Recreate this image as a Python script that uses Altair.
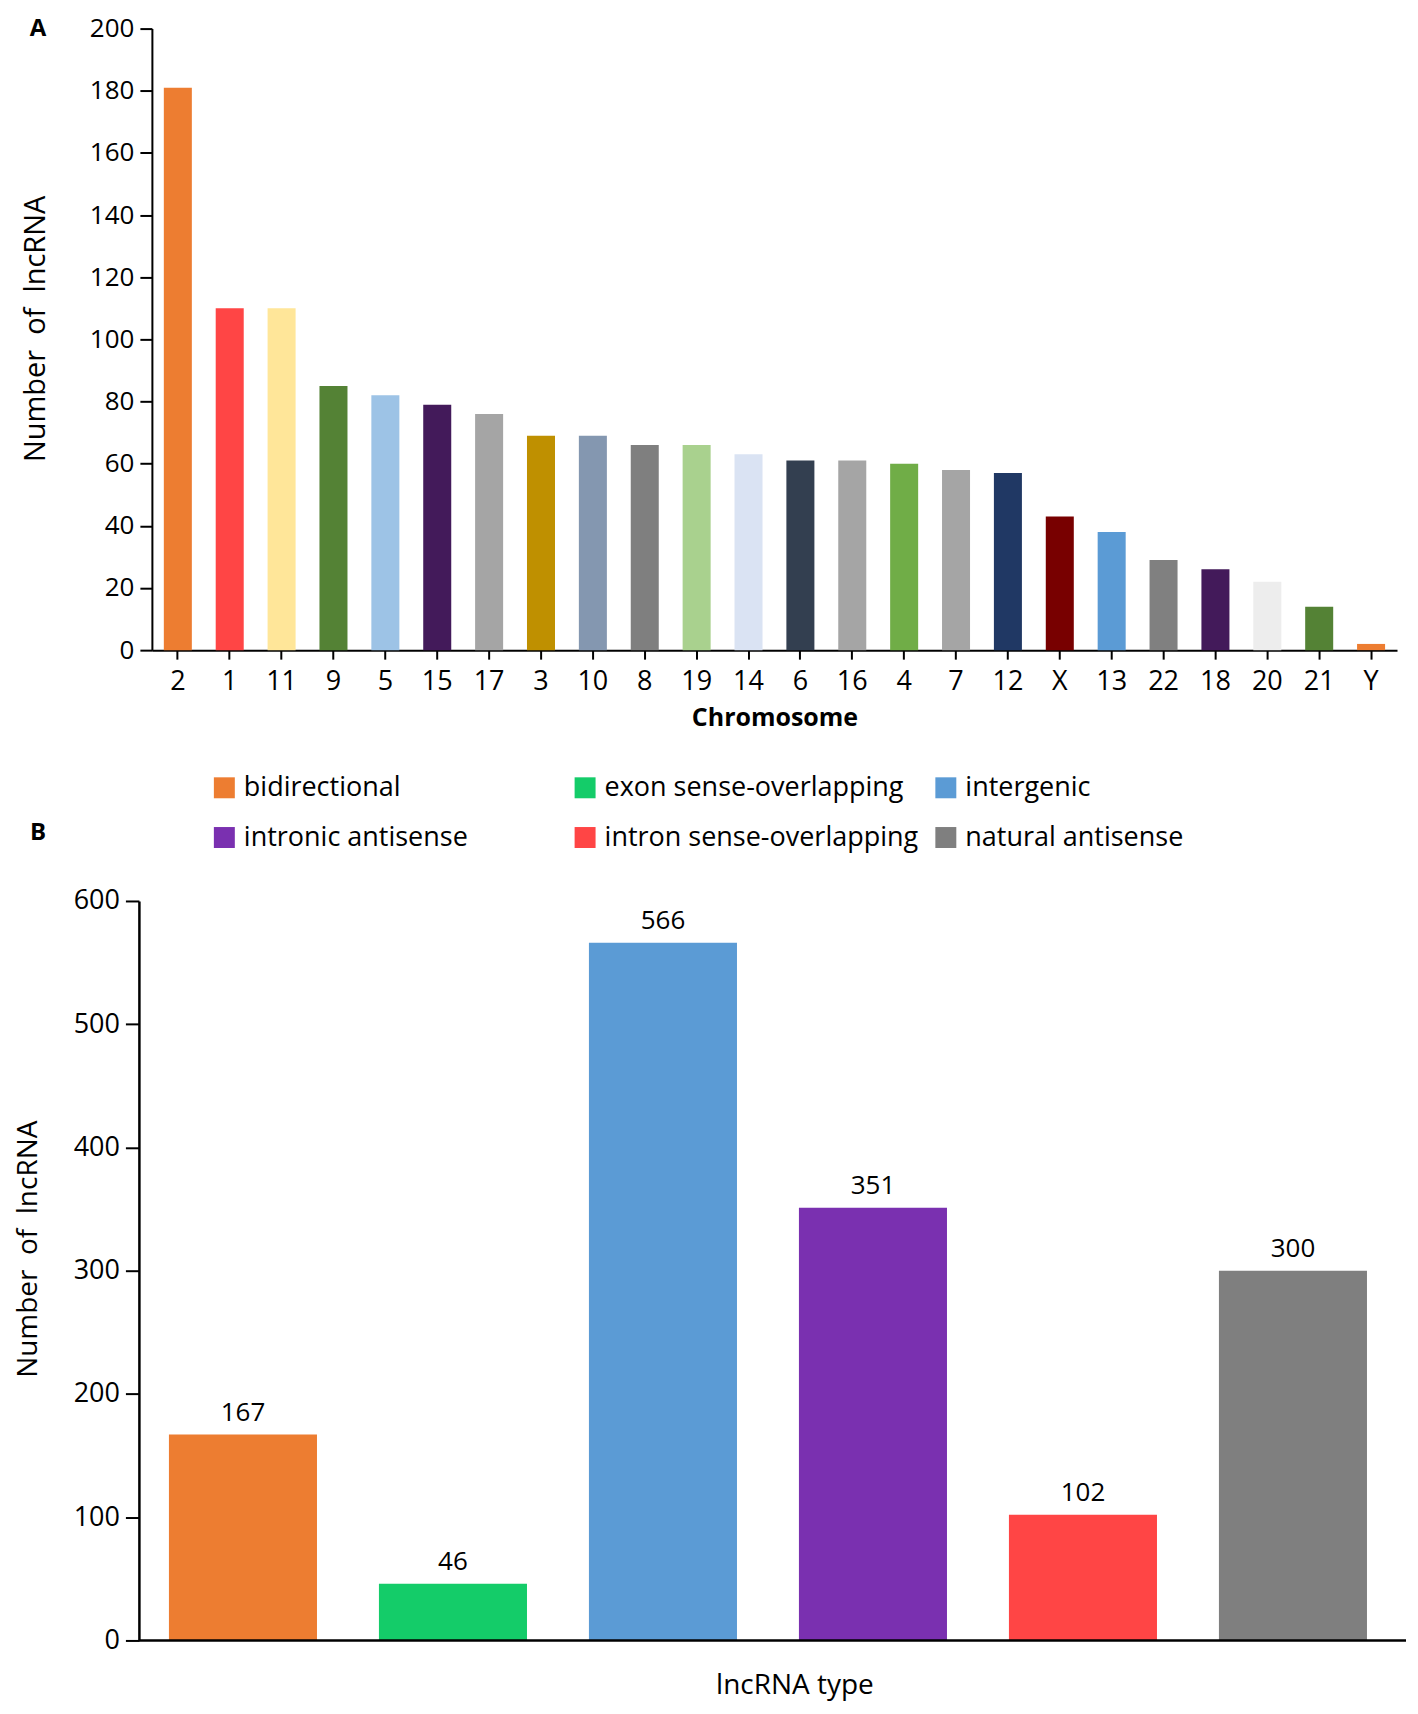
import altair as alt
import pandas as pd

# Panel A data
chromosomes = ["2", "1", "11", "9", "5", "15", "17", "3", "10", "8", "19", "14",
               "6", "16", "4", "7", "12", "X", "13", "22", "18", "20", "21", "Y"]
chrom_counts = [181, 110, 110, 85, 82, 79, 76, 69, 69, 66, 66, 63,
                61, 61, 60, 58, 57, 43, 38, 29, 26, 22, 14, 2]
chrom_colors = ["#ED7D31", "#FF4545", "#FFE699", "#548235", "#9DC3E6", "#431A5A",
                "#A5A5A5", "#BF9000", "#8497B0", "#7F7F7F", "#A9D18E", "#DAE3F3",
                "#333F50", "#A5A5A5", "#70AD47", "#A5A5A5", "#203864", "#780000",
                "#5B9BD5", "#808080", "#431A5A", "#EDEDED", "#548235", "#ED7D31"]
a_ticks = [0, 20, 40, 60, 80, 100, 120, 140, 160, 180, 200]

# Panel B data
types = ["bidirectional", "exon sense-overlapping", "intergenic",
         "intronic antisense", "intron sense-overlapping", "natural antisense"]
type_counts = [167, 46, 566, 351, 102, 300]
type_colors = ["#ED7D31", "#14CC69", "#5B9BD5", "#7A30B0", "#FF4545", "#7F7F7F"]
legend_order = ["bidirectional", "intronic antisense", "exon sense-overlapping",
                "intron sense-overlapping", "intergenic", "natural antisense"]
b_ticks = [0, 100, 200, 300, 400, 500, 600]

FONT = "Open Sans"
ytitle = "Number\u00a0 of\u00a0 lncRNA"

dfA = pd.DataFrame({"chrom": chromosomes, "count": chrom_counts})
dfB = pd.DataFrame({"type": types, "count": type_counts})
one = alt.Data(values=[{"k": 1}])

WA, HA = 1246, 622
WB, HB = 1255, 740
B_SHIFT = 13  # B's y-axis sits 13px left of A's

barsA = alt.Chart(dfA).mark_bar().encode(
    x=alt.X("chrom:N", sort=chromosomes,
            scale=alt.Scale(paddingInner=0.46, paddingOuter=0.23),
            axis=alt.Axis(title="Chromosome", labelAngle=0, labelFontSize=27,
                          labelColor="black", labelPadding=9, tickSize=9,
                          tickWidth=2, tickColor="black", domainColor="black",
                          domainWidth=2, titleFontSize=25, titleFontWeight="bold",
                          titleColor="black", titlePadding=11)),
    y=alt.Y("count:Q", scale=alt.Scale(domain=[0, 200], nice=False),
            axis=alt.Axis(title=ytitle, values=a_ticks, grid=False, labelFontSize=26,
                          labelColor="black", labelPadding=6, tickSize=12, tickWidth=2,
                          tickColor="black", domainColor="black", domainWidth=2,
                          titleFontSize=29, titleFontWeight="normal", titleColor="black",
                          titleX=-116, titleY=300, titleBaseline="middle")),
    color=alt.Color("chrom:N", scale=alt.Scale(domain=chromosomes, range=chrom_colors),
                    legend=None),
)

labelA = alt.Chart(one).mark_text(text="A", fontSize=24, fontWeight="bold",
                                  baseline="top", align="center", color="black").encode(
    x=alt.value(-114), y=alt.value(-12))
ghostA = alt.Chart(one).mark_rule(opacity=0).encode(
    x=alt.value(-144), x2=alt.value(-143), y=alt.value(300))
ghostTop = alt.Chart(one).mark_rule(opacity=0).encode(
    x=alt.value(-40), x2=alt.value(-39), y=alt.value(-20))

chartA = alt.layer(barsA, labelA, ghostA, ghostTop).properties(width=WA, height=HA)

barsB = alt.Chart(dfB).mark_bar().encode(
    x=alt.X("type:N", sort=types,
            scale=alt.Scale(paddingInner=0.295, paddingOuter=0.143,
                            range=[-B_SHIFT, 1259 - B_SHIFT]),
            axis=alt.Axis(title="lncRNA type", labels=False, ticks=False, domain=False,
                          titleFontSize=28, titleFontWeight="normal", titleColor="black",
                          titleX=643, titleY=45, titleBaseline="middle")),
    y=alt.Y("count:Q", scale=alt.Scale(domain=[0, 600], nice=False),
            axis=alt.Axis(title=ytitle, values=b_ticks, grid=False, labelFontSize=27,
                          labelColor="black", labelPadding=6, tickSize=13.5, tickWidth=2,
                          tickColor="black", domainColor="black", domainWidth=2.5,
                          offset=B_SHIFT,
                          titleFontSize=28, titleFontWeight="normal", titleColor="black",
                          titleX=-110, titleY=348, titleBaseline="middle")),
    y2=alt.value(733),
    color=alt.Color("type:N", scale=alt.Scale(domain=types, range=type_colors),
                    legend=alt.Legend(orient="none", legendX=59, legendY=-127, columns=3,
                                      values=legend_order,
                                      title=None, symbolType="square", symbolSize=440,
                                      symbolStrokeWidth=0, labelFontSize=27,
                                      labelColor="black", labelOffset=6, labelLimit=600,
                                      columnPadding=14, rowPadding=22, gridAlign="all")),
)

textB = alt.Chart(dfB).mark_text(fontSize=26, baseline="middle", dy=-22, color="black").encode(
    x=alt.X("type:N", sort=types),
    y=alt.Y("count:Q"),
    text=alt.Text("count:Q"),
)

baseB = alt.Chart(one).mark_rule(color="black", strokeWidth=2.5).encode(
    x=alt.value(-B_SHIFT), x2=alt.value(WB), y=alt.value(HB))

labelB = alt.Chart(one).mark_text(text="B", fontSize=24, fontWeight="bold",
                                  baseline="middle", align="center", color="black").encode(
    x=alt.value(-114), y=alt.value(-68))

ghostB = alt.Chart(one).mark_rule(opacity=0).encode(
    x=alt.value(600), x2=alt.value(601), y=alt.value(HB + 62))

chartB = alt.layer(barsB, textB, baseB, labelB, ghostB).properties(width=WB, height=HB)

chart = alt.vconcat(chartA, chartB, spacing=44).resolve_scale(
    color="independent", x="independent", y="independent"
).properties(padding=0).configure(font=FONT).configure_view(stroke=None)

chart.save("out.html", embed_options={"renderer": "svg", "actions": False})
